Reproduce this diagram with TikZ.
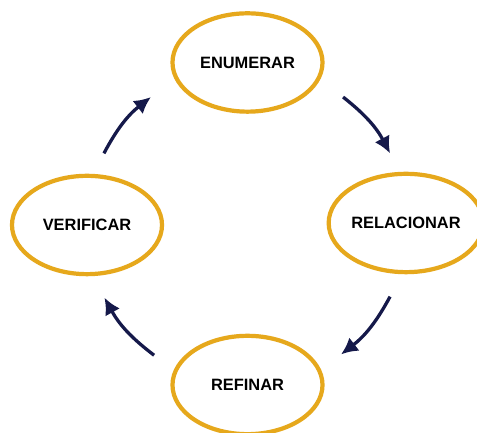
\documentclass[tikz,border=0pt]{standalone}
\usepackage{fontspec}
\setmainfont{Liberation Sans}
\usetikzlibrary{shapes.geometric,arrows.meta,calc}
\definecolor{gold}{HTML}{E6A81C}
\definecolor{navy}{HTML}{15194A}
\begin{document}
\begin{tikzpicture}
[x=0.03cm,y=0.03cm,
stage/.style={ellipse,draw=gold,line width=3.6pt,fill=white,inner sep=0pt,minimum width=4.5cm,minimum height=2.95cm,font=\fontsize{14}{16}\selectfont\bfseries},
flow/.style={draw=navy,line width=2.8pt,-{Latex[length=5mm,width=5mm]}}]
\clip (0,0) rectangle (477,433);
\fill[white] (0,0) rectangle (477,433);
\coordinate (c) at (247,208);
\node[stage] (enum) at (247.5,370.5) {ENUMERAR};
\node[stage] (relac) at (406,210) {RELACIONAR};
\node[stage] (refin) at (247.5,48) {REFINAR};
\node[stage] (verif) at (87,208) {VERIFICAR};
\coordinate (tl1) at ($(c)+(153.4:160)$);
\coordinate (tl2) at ($(c)+(126.9:160)$);
\coordinate (tr1) at ($(c)+(53.1:160)$);
\coordinate (tr2) at ($(c)+(26.6:160)$);
\coordinate (br1) at ($(c)+(-26.6:160)$);
\coordinate (br2) at ($(c)+(-54:160)$);
\coordinate (bl1) at ($(c)+(-125.5:160)$);
\coordinate (bl2) at ($(c)+(-153:160)$);
\draw[flow] (tl1) to[bend left=12] (tl2);
\draw[flow] (tr1) to[bend left=12] (tr2);
\draw[flow] (br1) to[bend left=12] (br2);
\draw[flow] (bl1) to[bend left=12] (bl2);
\end{tikzpicture}
\end{document}
